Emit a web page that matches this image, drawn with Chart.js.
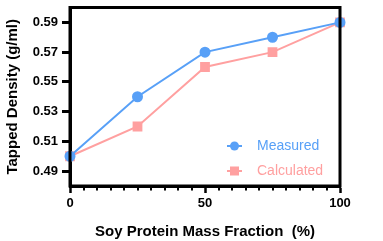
<!DOCTYPE html>
<html>
<head>
<meta charset="utf-8">
<script src="https://cdn.jsdelivr.net/npm/chart.js@4.4.1/dist/chart.umd.min.js"></script>
<style>
  html, body { margin: 0; padding: 0; background: #fff; overflow: hidden; }
  #densityChart { display: block; }
</style>
</head>
<body>
<canvas id="densityChart" width="383" height="241"></canvas>
<script>
const fractions = [0, 25, 50, 75, 100];
const measured = [0.50, 0.54, 0.57, 0.58, 0.59];
const calculated = [0.50, 0.52, 0.56, 0.57, 0.59];
const yTicks = [0.49, 0.51, 0.53, 0.55, 0.57, 0.59];
const xLabels = [0, 50, 100];

const blue = 'rgb(88,160,247)';
const pink = 'rgb(255,160,160)';
const font = 'Liberation Sans, Arial, sans-serif';

const toPoints = vals => vals.map((v, i) => ({ x: fractions[i], y: v }));

// box round the plot, minor x ticks, legend inside the plot
const frame = {
  id: 'frame',
  afterDraw(chart) {
    const { ctx, chartArea: a } = chart;
    const xs = chart.scales.x;
    ctx.save();
    ctx.strokeStyle = '#000';
    ctx.lineWidth = 3;
    ctx.strokeRect(a.left, a.top, a.right - a.left, a.bottom - a.top);

    ctx.lineWidth = 2;
    for (let v = 5; v < 100; v += 5) {
      if (xLabels.includes(v)) continue;
      const px = Math.round(xs.getPixelForValue(v));
      ctx.beginPath();
      ctx.moveTo(px, a.bottom);
      ctx.lineTo(px, a.bottom + 4.5);
      ctx.stroke();
    }

    ctx.font = '14px ' + font;
    ctx.textBaseline = 'middle';
    chart.data.datasets.forEach((ds, i) => {
      const y = 146 + i * 25;
      ctx.strokeStyle = ds.borderColor;
      ctx.lineWidth = 2;
      ctx.beginPath();
      ctx.moveTo(227, y);
      ctx.lineTo(242, y);
      ctx.stroke();
      ctx.fillStyle = ds.backgroundColor;
      if (ds.pointStyle === 'rect') {
        ctx.fillRect(230, y - 4.5, 9, 9);
      } else {
        ctx.beginPath();
        ctx.arc(234.5, y, 4.5, 0, Math.PI * 2);
        ctx.fill();
      }
      ctx.fillStyle = ds.borderColor;
      ctx.fillText(ds.label, 257, y);
    });
    ctx.restore();
  }
};

new Chart(document.getElementById('densityChart'), {
  type: 'line',
  data: {
    datasets: [
      {
        label: 'Measured',
        data: toPoints(measured),
        borderColor: blue,
        backgroundColor: blue,
        pointStyle: 'circle',
        pointRadius: 4.5,
        borderWidth: 2,
        clip: false
      },
      {
        label: 'Calculated',
        data: toPoints(calculated),
        borderColor: pink,
        backgroundColor: pink,
        pointStyle: 'rect',
        pointRadius: 5.5,
        borderWidth: 2,
        clip: false
      }
    ]
  },
  plugins: [frame],
  options: {
    responsive: false,
    animation: false,
    layout: { padding: { top: 7, right: 43, left: 0, bottom: 0 } },
    plugins: {
      legend: { display: false },
      tooltip: { enabled: false }
    },
    scales: {
      x: {
        type: 'linear',
        min: 0,
        max: 100,
        afterFit: s => { s.height = 55; s.paddingLeft = 0; s.paddingRight = 0; },
        afterBuildTicks: s => { s.ticks = xLabels.map(v => ({ value: v })); },
        grid: {
          drawOnChartArea: false,
          color: '#000',
          tickLength: 7,
          tickWidth: 2.5
        },
        border: { color: '#000', width: 3 },
        ticks: {
          color: '#000',
          padding: 3,
          maxRotation: 0,
          autoSkip: false,
          font: { family: font, size: 13, weight: 'bold' }
        },
        title: {
          display: true,
          text: 'Soy Protein Mass Fraction  (%)',
          color: '#000',
          padding: { top: 5, bottom: 0 },
          font: { family: font, size: 15, weight: 'bold' }
        }
      },
      y: {
        min: 0.48,
        max: 0.60,
        afterFit: s => { s.width = 70; s.paddingTop = 0; s.paddingBottom = 0; },
        afterBuildTicks: s => { s.ticks = yTicks.map(v => ({ value: v })); },
        grid: {
          drawOnChartArea: false,
          color: '#000',
          tickLength: 8,
          tickWidth: 3
        },
        border: { color: '#000', width: 3 },
        ticks: {
          color: '#000',
          padding: 4,
          font: { family: font, size: 13, weight: 'bold' },
          callback: v => v.toFixed(2)
        },
        title: {
          display: true,
          text: 'Tapped Density (g/ml)',
          color: '#000',
          padding: { top: 4, bottom: 2 },
          font: { family: font, size: 15, weight: 'bold' }
        }
      }
    }
  }
});
</script>
</body>
</html>
